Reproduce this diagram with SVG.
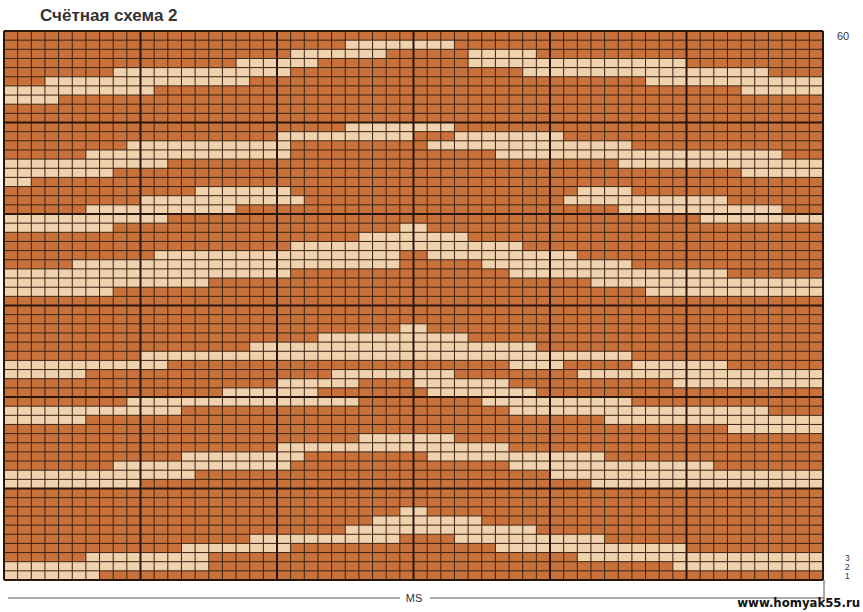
<svg xmlns="http://www.w3.org/2000/svg" width="863" height="612" viewBox="0 0 863 612">
<style>
.t{font-family:"Liberation Sans",Arial,sans-serif;fill:#333}
.lt{fill:#F1D2AE}
.thin{fill:none;stroke:#3A2312;stroke-width:1;vector-effect:non-scaling-stroke}
.thick{fill:none;stroke:#2A170A;stroke-width:2;vector-effect:non-scaling-stroke}
</style>
<rect width="863" height="612" fill="#fff"/>
<text class="t" x="40" y="21" font-size="17" font-weight="bold" fill="#222">Счётная схема 2</text>
<g id="chart" transform="translate(4,31) scale(13.65,9.15)">
<rect x="0" y="0" width="60" height="60" fill="#C9713A"/>
<g id="light" class="lt">
<rect x="25" y="1" width="8" height="1"/>
<rect x="21" y="2" width="7" height="1"/><rect x="34" y="2" width="5" height="1"/>
<rect x="17" y="3" width="6" height="1"/><rect x="34" y="3" width="16" height="1"/>
<rect x="8" y="4" width="13" height="1"/><rect x="38" y="4" width="18" height="1"/>
<rect x="3" y="5" width="15" height="1"/><rect x="47" y="5" width="13" height="1"/>
<rect x="0" y="6" width="11" height="1"/><rect x="54" y="6" width="6" height="1"/>
<rect x="0" y="7" width="4" height="1"/>
<rect x="25" y="10" width="8" height="1"/>
<rect x="20" y="11" width="10" height="1"/><rect x="33" y="11" width="8" height="1"/>
<rect x="9" y="12" width="12" height="1"/><rect x="31" y="12" width="15" height="1"/>
<rect x="6" y="13" width="15" height="1"/><rect x="36" y="13" width="21" height="1"/>
<rect x="0" y="14" width="12" height="1"/><rect x="45" y="14" width="15" height="1"/>
<rect x="0" y="15" width="8" height="1"/><rect x="54" y="15" width="6" height="1"/>
<rect x="0" y="16" width="2" height="1"/>
<rect x="14" y="17" width="7" height="1"/><rect x="42" y="17" width="4" height="1"/>
<rect x="10" y="18" width="12" height="1"/><rect x="41" y="18" width="12" height="1"/>
<rect x="6" y="19" width="11" height="1"/><rect x="45" y="19" width="12" height="1"/>
<rect x="0" y="20" width="12" height="1"/><rect x="51" y="20" width="9" height="1"/>
<rect x="0" y="21" width="8" height="1"/><rect x="29" y="21" width="2" height="1"/>
<rect x="26" y="22" width="8" height="1"/>
<rect x="21" y="23" width="17" height="1"/>
<rect x="11" y="24" width="18" height="1"/><rect x="31" y="24" width="11" height="1"/>
<rect x="5" y="25" width="24" height="1"/><rect x="35" y="25" width="11" height="1"/>
<rect x="0" y="26" width="21" height="1"/><rect x="37" y="26" width="16" height="1"/>
<rect x="0" y="27" width="15" height="1"/><rect x="43" y="27" width="17" height="1"/>
<rect x="0" y="28" width="8" height="1"/><rect x="47" y="28" width="13" height="1"/>
<rect x="29" y="32" width="2" height="1"/>
<rect x="23" y="33" width="11" height="1"/>
<rect x="18" y="34" width="21" height="1"/>
<rect x="10" y="35" width="18" height="1"/><rect x="28" y="35" width="18" height="1"/>
<rect x="0" y="36" width="12" height="1"/><rect x="37" y="36" width="4" height="1"/><rect x="46" y="36" width="7" height="1"/>
<rect x="0" y="37" width="6" height="1"/><rect x="24" y="37" width="9" height="1"/><rect x="42" y="37" width="18" height="1"/>
<rect x="20" y="38" width="6" height="1"/><rect x="30" y="38" width="7" height="1"/><rect x="49" y="38" width="11" height="1"/>
<rect x="16" y="39" width="7" height="1"/><rect x="31" y="39" width="8" height="1"/>
<rect x="9" y="40" width="17" height="1"/><rect x="35" y="40" width="11" height="1"/>
<rect x="0" y="41" width="13" height="1"/><rect x="37" y="41" width="19" height="1"/>
<rect x="0" y="42" width="6" height="1"/><rect x="44" y="42" width="16" height="1"/>
<rect x="53" y="43" width="7" height="1"/>
<rect x="26" y="44" width="7" height="1"/>
<rect x="20" y="45" width="17" height="1"/>
<rect x="13" y="46" width="9" height="1"/><rect x="31" y="46" width="13" height="1"/>
<rect x="8" y="47" width="13" height="1"/><rect x="37" y="47" width="15" height="1"/>
<rect x="0" y="48" width="14" height="1"/><rect x="40" y="48" width="20" height="1"/>
<rect x="0" y="49" width="10" height="1"/><rect x="43" y="49" width="17" height="1"/>
<rect x="29" y="52" width="2" height="1"/>
<rect x="27" y="53" width="8" height="1"/>
<rect x="25" y="54" width="14" height="1"/>
<rect x="18" y="55" width="11" height="1"/><rect x="33" y="55" width="11" height="1"/>
<rect x="13" y="56" width="8" height="1"/><rect x="36" y="56" width="14" height="1"/>
<rect x="6" y="57" width="9" height="1"/><rect x="42" y="57" width="18" height="1"/>
<rect x="0" y="58" width="15" height="1"/><rect x="49" y="58" width="11" height="1"/>
<rect x="0" y="59" width="7" height="1"/>
</g>
<path class="thin" d="M1 0V60M2 0V60M3 0V60M4 0V60M5 0V60M6 0V60M7 0V60M8 0V60M9 0V60M11 0V60M12 0V60M13 0V60M14 0V60M15 0V60M16 0V60M17 0V60M18 0V60M19 0V60M21 0V60M22 0V60M23 0V60M24 0V60M25 0V60M26 0V60M27 0V60M28 0V60M29 0V60M31 0V60M32 0V60M33 0V60M34 0V60M35 0V60M36 0V60M37 0V60M38 0V60M39 0V60M41 0V60M42 0V60M43 0V60M44 0V60M45 0V60M46 0V60M47 0V60M48 0V60M49 0V60M51 0V60M52 0V60M53 0V60M54 0V60M55 0V60M56 0V60M57 0V60M58 0V60M59 0V60"/>
<path class="thin" d="M0 1H60M0 2H60M0 3H60M0 4H60M0 5H60M0 6H60M0 7H60M0 8H60M0 9H60M0 11H60M0 12H60M0 13H60M0 14H60M0 15H60M0 16H60M0 17H60M0 18H60M0 19H60M0 21H60M0 22H60M0 23H60M0 24H60M0 25H60M0 26H60M0 27H60M0 28H60M0 29H60M0 31H60M0 32H60M0 33H60M0 34H60M0 35H60M0 36H60M0 37H60M0 38H60M0 39H60M0 41H60M0 42H60M0 43H60M0 44H60M0 45H60M0 46H60M0 47H60M0 48H60M0 49H60M0 51H60M0 52H60M0 53H60M0 54H60M0 55H60M0 56H60M0 57H60M0 58H60M0 59H60"/>
<path class="thick" d="M0 0V60M10 0V60M20 0V60M30 0V60M40 0V60M50 0V60M60 0V60M0 0H60M0 10H60M0 20H60M0 30H60M0 40H60M0 50H60M0 60H60"/>
</g>
<g id="labels">
<text class="t" x="837" y="40" font-size="11">60</text>
<text class="t" x="845" y="560.5" font-size="8.5">3</text>
<text class="t" x="845" y="569.5" font-size="8.5">2</text>
<text class="t" x="845" y="578.5" font-size="8.5">1</text>
<path d="M824 580V600M8 598H400M430 598H824" fill="none" stroke="#555" stroke-width="1"/>
<text class="t" x="414" y="602" font-size="11" text-anchor="middle">MS</text>
<text x="860" y="607" font-size="13" font-weight="bold" text-anchor="end" font-family="'DejaVu Sans Condensed','DejaVu Sans',sans-serif" fill="#111">www.homyak55.ru</text>
</g>
</svg>
